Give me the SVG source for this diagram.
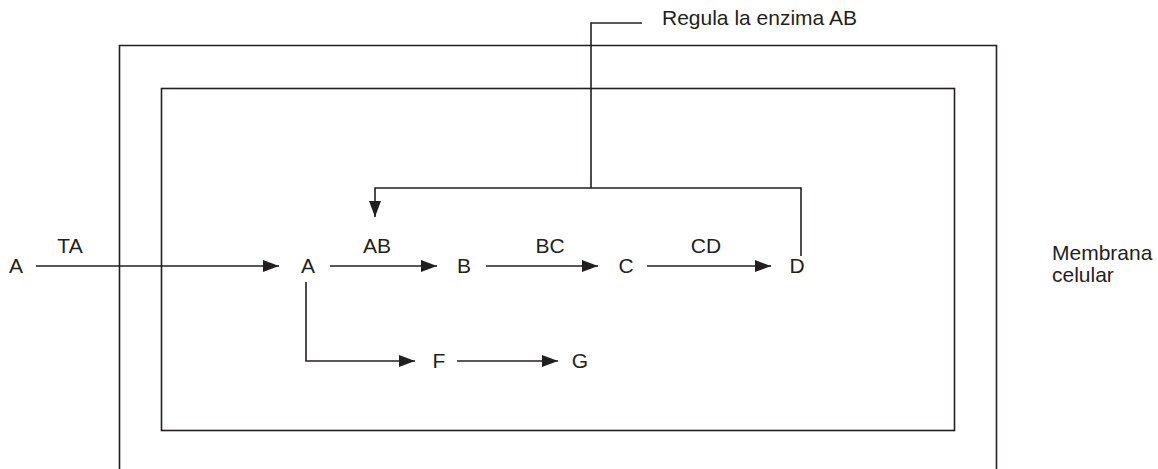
<svg xmlns="http://www.w3.org/2000/svg" width="1158" height="469" viewBox="0 0 1158 469">
<style>
.ln{fill:none;stroke:#231f20;stroke-width:1.6}
.t{font-family:"Liberation Sans",Arial,sans-serif;font-size:21px;fill:#231f20}
.m{text-anchor:middle}
</style>
<defs>
<marker id="ah" markerUnits="userSpaceOnUse" markerWidth="18" markerHeight="14" refX="16" refY="6" orient="auto">
<path d="M0,0 L16,6 L0,12 Z" fill="#231f20"/>
</marker>
</defs>
<rect width="1158" height="469" fill="#fff"/>
<g id="membrana-externa">
<path class="ln" d="M119.5,469 V45.5 H996.5 V469"/>
</g>
<g id="membrana-interna">
<rect class="ln" x="161.5" y="88.5" width="793" height="342"/>
</g>
<g id="nodo-A-ext"><text class="t m" x="16" y="273">A</text></g>
<g id="nodo-A"><text class="t m" x="308" y="273">A</text></g>
<g id="nodo-B"><text class="t m" x="464" y="273">B</text></g>
<g id="nodo-C"><text class="t m" x="626" y="273">C</text></g>
<g id="nodo-D"><text class="t m" x="797" y="273">D</text></g>
<g id="nodo-F"><text class="t m" x="439" y="368">F</text></g>
<g id="nodo-G"><text class="t m" x="580" y="368">G</text></g>
<g id="etiqueta-membrana">
<text class="t" x="1052" y="260">Membrana</text>
<text class="t" x="1052" y="282">celular</text>
</g>
<g id="etiqueta-regula"><text class="t" x="662" y="25">Regula la enzima AB</text></g>
<g id="conectores">
<line class="ln" x1="36" y1="266" x2="279" y2="266" marker-end="url(#ah)"/>
<line class="ln" x1="330" y1="266" x2="437" y2="266" marker-end="url(#ah)"/>
<line class="ln" x1="486" y1="266" x2="598" y2="266" marker-end="url(#ah)"/>
<line class="ln" x1="647" y1="266" x2="771" y2="266" marker-end="url(#ah)"/>
<path class="ln" d="M306,282 V361 H415" marker-end="url(#ah)"/>
<line class="ln" x1="457" y1="361" x2="558" y2="361" marker-end="url(#ah)"/>
<path class="ln" d="M801,256 V188 H375 V217" marker-end="url(#ah)"/>
<path class="ln" d="M591,188 V23 H642"/>
<text class="t m" x="70" y="253">TA</text>
<text class="t m" x="377" y="253">AB</text>
<text class="t m" x="550" y="253">BC</text>
<text class="t m" x="706" y="253">CD</text>
</g>
</svg>
